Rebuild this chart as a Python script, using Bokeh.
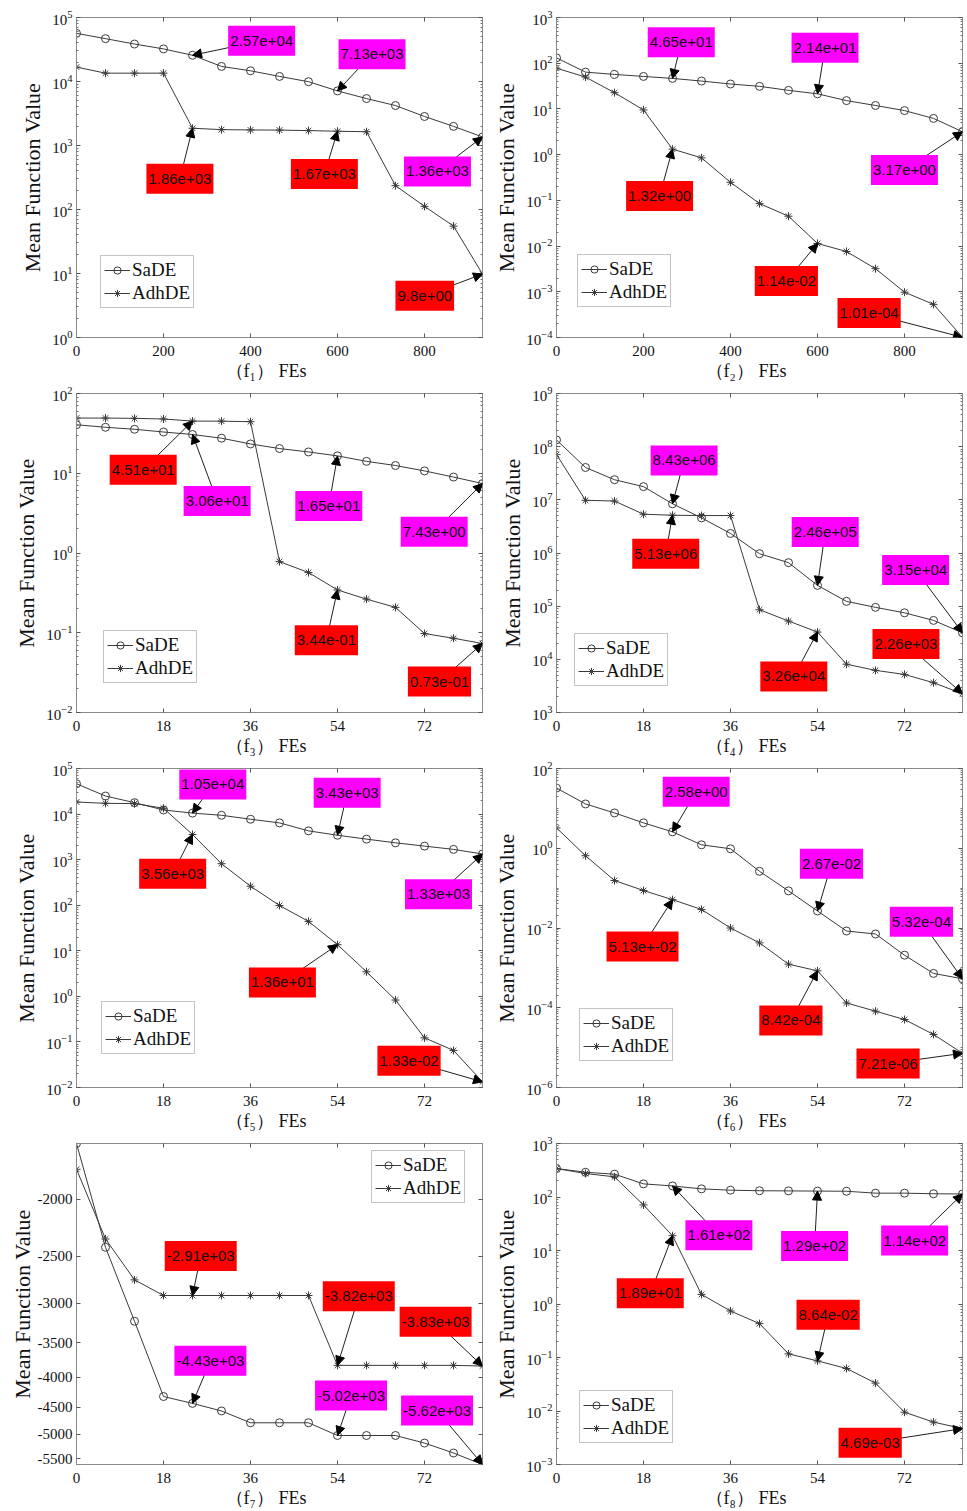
from bokeh.embed import file_html
from bokeh.layouts import column, row
from bokeh.models import (Arrow, CustomJSTickFormatter, FixedTicker, Label, Legend,
                          LegendItem, LinearAxis, LogAxis, NormalHead, Range1d)
from bokeh.plotting import figure
from bokeh.resources import INLINE

# ------------------------------------------------------------------ data
FES_COARSE = [0, 66.7, 133.3, 200, 266.7, 333.3, 400, 466.7, 533.3, 600, 666.7, 733.3, 800, 866.7, 933.3]
FES_FINE = [0, 6, 12, 18, 24, 30, 36, 42, 48, 54, 60, 66, 72, 78, 84]
XTICKS_COARSE = [0, 200, 400, 600, 800]
XTICKS_FINE = [0, 18, 36, 54, 72]
SERIES_NAMES = ["SaDE", "AdhDE"]
Y_LABEL = "Mean Function Value"
X_LABEL = "（f{}） FEs"
SUBSCRIPTS = ["₁", "₂", "₃", "₄", "₅", "₆", "₇", "₈"]

F1_SADE = [56500, 46700, 38500, 32300, 25700, 17200, 14700, 12000, 9930, 7130, 5410, 4210, 2840, 1990, 1360]
F1_ADHDE = [16800, 13500, 13500, 13500, 1860, 1770, 1750, 1740, 1710, 1670, 1640, 236, 112, 55, 9.8]
F1_NOTES_SADE = ["2.57e+04", "7.13e+03", "1.36e+03"]
F1_NOTES_ADHDE = ["1.86e+03", "1.67e+03", "9.8e+00"]

F2_SADE = [131, 63.8, 56.9, 51.4, 46.5, 40.7, 35.1, 31.2, 25.5, 21.4, 15.2, 11.9, 9.2, 6.2, 3.17]
F2_ADHDE = [78, 49.7, 22.7, 9.5, 1.32, 0.85, 0.248, 0.085, 0.045, 0.0114, 0.0076, 0.0032, 0.00098, 0.00053, 0.000101]
F2_NOTES_SADE = ["4.65e+01", "2.14e+01", "3.17e+00"]
F2_NOTES_ADHDE = ["1.32e+00", "1.14e-02", "1.01e-04"]

F3_SADE = [40.6, 37.7, 35.6, 32.9, 30.6, 27.5, 23.3, 20.4, 18.5, 16.5, 14.1, 12.5, 10.7, 8.96, 7.43]
F3_ADHDE = [49.2, 49.2, 48.8, 47.9, 45.1, 45.0, 44.3, 0.78, 0.569, 0.344, 0.264, 0.208, 0.0977, 0.0853, 0.0733]
F3_NOTES_SADE = ["3.06e+01", "1.65e+01", "7.43e+00"]
F3_NOTES_ADHDE = ["4.51e+01", "3.44e-01", "0.73e-01"]

F4_SADE = [1.34e8, 4.06e7, 2.39e7, 1.77e7, 8.43e6, 4.58e6, 2.33e6, 9.7e5, 6.58e5, 2.46e5, 1.23e5, 9.5e4, 7.5e4, 5.4e4, 3.15e4]
F4_ADHDE = [7.1e7, 9.8e6, 9.5e6, 5.36e6, 5.13e6, 5.06e6, 5.06e6, 8.57e4, 5.25e4, 3.26e4, 8.1e3, 6.2e3, 5.2e3, 3.63e3, 2.26e3]
F4_NOTES_SADE = ["8.43e+06", "2.46e+05", "3.15e+04"]
F4_NOTES_ADHDE = ["5.13e+06", "3.26e+04", "2.26e+03"]

F5_SADE = [4.62e4, 2.49e4, 1.78e4, 1.23e4, 1.05e4, 9.4e3, 7.7e3, 6.4e3, 4.28e3, 3.43e3, 2.82e3, 2.34e3, 1.98e3, 1.68e3, 1.33e3]
F5_ADHDE = [1.84e4, 1.72e4, 1.70e4, 1.34e4, 3.56e3, 815, 261, 98.6, 44.1, 13.6, 3.46, 0.83, 0.123, 0.0651, 0.0133]
F5_NOTES_SADE = ["1.05e+04", "3.43e+03", "1.33e+03"]
F5_NOTES_ADHDE = ["3.56e+03", "1.36e+01", "1.33e-02"]

F6_SADE = [32.3, 12.9, 7.69, 4.33, 2.58, 1.22, 0.97, 0.264, 0.0853, 0.0267, 0.0084, 0.00708, 0.00208, 7.26e-4, 5.32e-4]
F6_ADHDE = [3.24, 0.65, 0.155, 0.0871, 0.0513, 0.0292, 0.01, 0.00423, 0.00124, 8.42e-4, 1.32e-4, 8.2e-5, 5.07e-5, 2.14e-5, 7.21e-6]
F6_NOTES_SADE = ["2.58e+00", "2.67e-02", "5.32e-04"]
F6_NOTES_ADHDE = ["5.13e+-02", "8.42e-04", "7.21e-06"]

F7_SADE = [-1610, -2412, -3217, -4313, -4430, -4562, -4777, -4777, -4777, -5020, -5020, -5020, -5170, -5374, -5620]
F7_ADHDE = [-1780, -2335, -2738, -2910, -2910, -2910, -2910, -2910, -2910, -3820, -3820, -3820, -3820, -3820, -3830]
F7_NOTES_SADE = ["-4.43e+03", "-5.02e+03", "-5.62e+03"]
F7_NOTES_ADHDE = ["-2.91e+03", "-3.82e+03", "-3.83e+03"]
F7_YTICKS = [-2000, -2500, -3000, -3500, -4000, -4500, -5000, -5500]

F8_SADE = [340, 290, 267, 176, 161, 142, 134, 131, 130, 129, 128, 118, 118, 115, 114]
F8_ADHDE = [340, 275, 238, 71, 18.9, 1.51, 0.74, 0.43, 0.117, 0.0864, 0.0624, 0.0332, 0.0095, 0.0062, 0.00469]
F8_NOTES_SADE = ["1.61e+02", "1.29e+02", "1.14e+02"]
F8_NOTES_ADHDE = ["1.89e+01", "8.64e-02", "4.69e-03"]

NOTE_INDEX = [4, 9, 14]

# ------------------------------------------------------------------ styles / layout
LINE_C = "#3a3a3a"
AXIS_C = "#8a8a8a"
SADE_BOX = "#ff00ff"
ADHDE_BOX = "#ff0000"
SERIF = "Liberation Serif"
SANS = "Liberation Sans"
LABEL_PAD = "\u00a0" * 6   # nudges the centred x label a little to the left

FRAME_W = 406


def decades(lo, hi, step=1):
    major = [10.0 ** k for k in range(lo, hi + 1, step)]
    minor = [10.0 ** k for k in range(lo, hi + 1) if (k - lo) % step]
    minor += [m * 10.0 ** k for k in range(lo, hi) for m in range(2, 10)]
    return major, minor


def style_axis(ax, labels=True):
    ax.axis_line_color = AXIS_C
    ax.major_tick_line_color = "#555555"
    ax.minor_tick_line_color = "#777777"
    ax.major_tick_in = 4
    ax.major_tick_out = 0
    ax.minor_tick_in = 2
    ax.minor_tick_out = 0
    if labels:
        ax.major_label_text_font = SERIF
        ax.major_label_text_font_size = "15px"
        ax.major_label_text_color = "#111111"
    else:
        ax.major_label_text_font_size = "1px"
        ax.major_label_text_alpha = 0
        ax.major_label_standoff = 0


def panel(spec, width, height, bleft, btop, bbot):
    sign = spec.get("sign", 1)
    x = spec["x"]
    ys = [sign * v for v in spec["sade"]]
    ya = [sign * v for v in spec["adhde"]]
    p = figure(width=width, height=height,
               x_range=Range1d(0, x[-1]),
               y_range=Range1d(spec["ylo"], spec["yhi"]),
               y_axis_type="log", output_backend="svg", toolbar_location=None,
               min_border_left=bleft, min_border_right=width - bleft - FRAME_W,
               min_border_top=btop, min_border_bottom=bbot,
               outline_line_color=AXIS_C, background_fill_color="white",
               border_fill_color="white")
    p.grid.visible = False

    l1 = p.line(x, ys, line_color=LINE_C, line_width=1)
    m1 = p.scatter(x, ys, marker="circle", size=8, fill_color=None, line_color=LINE_C, line_width=1)
    l2 = p.line(x, ya, line_color=LINE_C, line_width=1)
    m2 = p.scatter(x, ya, marker="asterisk", size=8, line_color=LINE_C, line_width=1)

    # axes
    xa = p.xaxis[0]
    xa.ticker = FixedTicker(ticks=spec["xticks"], minor_ticks=[])
    style_axis(xa)
    xa.major_label_standoff = 8
    xa.axis_label = X_LABEL.format(SUBSCRIPTS[spec["n"] - 1]) + LABEL_PAD
    xa.axis_label_text_font = SERIF
    xa.axis_label_text_font_size = "18px"
    xa.axis_label_text_font_style = "normal"
    xa.axis_label_text_color = "#111111"
    xa.axis_label_standoff = 2

    yax = p.yaxis[0]
    if sign < 0:
        ymaj = [-t for t in F7_YTICKS]
        ymin = []
        yax.formatter = CustomJSTickFormatter(code="return '-' + Math.round(tick).toString();")
        yax.axis_label_standoff = 0
    else:
        ymaj, ymin = decades(spec["elo"], spec["ehi"], spec.get("estep", 1))
        yax.axis_label_standoff = 4
    yax.ticker = FixedTicker(ticks=ymaj, minor_ticks=ymin)
    style_axis(yax)
    yax.major_label_standoff = 4
    yax.axis_label = Y_LABEL
    yax.axis_label_text_font = SERIF
    yax.axis_label_text_font_size = "22px"
    yax.axis_label_text_font_style = "normal"
    yax.axis_label_text_color = "#111111"

    top = LinearAxis(ticker=FixedTicker(ticks=spec["xticks"], minor_ticks=[]))
    style_axis(top, labels=False)
    p.add_layout(top, "above")
    right = LogAxis(ticker=FixedTicker(ticks=ymaj, minor_ticks=ymin))
    style_axis(right, labels=False)
    p.add_layout(right, "right")

    # annotations: arrows first, boxes on top
    groups = [(ys, spec["notes_s"], spec["boxes_s"], SADE_BOX),
              (ya, spec["notes_a"], spec["boxes_a"], ADHDE_BOX)]
    for yv, notes, boxes, col in groups:
        for idx, txt, (bx, by) in zip(NOTE_INDEX, notes, boxes):
            p.add_layout(Arrow(end=NormalHead(size=9, fill_color="black", line_color="black", line_width=1),
                               x_start=bx, y_start=by, x_end=x[idx], y_end=yv[idx],
                               line_color="#202020", line_width=1))
    for yv, notes, boxes, col in groups:
        for idx, txt, (bx, by) in zip(NOTE_INDEX, notes, boxes):
            p.add_layout(Label(x=bx, y=by, text=txt, text_align="center", text_baseline="middle",
                               text_font=SANS, text_font_size="15px", text_color="#111111",
                               background_fill_color=col, background_fill_alpha=1.0,
                               padding=(2, 10)))

    # legend
    leg = Legend(items=[LegendItem(label=SERIES_NAMES[0], renderers=[l1, m1]),
                        LegendItem(label=SERIES_NAMES[1], renderers=[l2, m2])],
                 location=spec["legend"], orientation="vertical",
                 label_text_font=SERIF, label_text_font_size="19px", label_text_color="#111111",
                 glyph_width=26, glyph_height=18, label_height=20, label_standoff=2,
                 padding=3, spacing=1, margin=0,
                 border_line_color="#8a8a8a", border_line_width=1,
                 background_fill_color="white", background_fill_alpha=1.0)
    p.add_layout(leg)
    return p


specs = [
    dict(n=1, x=FES_COARSE, xticks=XTICKS_COARSE, sade=F1_SADE, adhde=F1_ADHDE,
         ylo=1, yhi=1e5, elo=0, ehi=5, notes_s=F1_NOTES_SADE, notes_a=F1_NOTES_ADHDE,
         boxes_s=[(425.6, 43450), (679.4, 26670), (829.8, 394)],
         boxes_a=[(237.7, 303), (569.8, 358), (800.6, 4.49)],
         legend=(24, 29)),
    dict(n=2, x=FES_COARSE, xticks=XTICKS_COARSE, sade=F2_SADE, adhde=F2_ADHDE,
         ylo=1e-4, yhi=1e3, elo=-4, ehi=3, notes_s=F2_NOTES_SADE, notes_a=F2_NOTES_ADHDE,
         boxes_s=[(286.8, 286), (617.3, 219), (799.8, 0.459)],
         boxes_a=[(237, 0.125), (528.4, 0.00172), (718.6, 3.42e-4)],
         legend=(21, 30)),
    dict(n=3, x=FES_FINE, xticks=XTICKS_FINE, sade=F3_SADE, adhde=F3_ADHDE,
         ylo=1e-2, yhi=1e2, elo=-2, ehi=2, notes_s=F3_NOTES_SADE, notes_a=F3_NOTES_ADHDE,
         boxes_s=[(29.1, 4.5), (52.2, 3.89), (74.0, 1.85)],
         boxes_a=[(13.8, 11.1), (51.7, 0.0806), (75.1, 0.0244)],
         legend=(27, 29)),
    dict(n=4, x=FES_FINE, xticks=XTICKS_FINE, sade=F4_SADE, adhde=F4_ADHDE,
         ylo=1e3, yhi=1e9, elo=3, ehi=9, notes_s=F4_NOTES_SADE, notes_a=F4_NOTES_ADHDE,
         boxes_s=[(26.4, 5.5e7), (55.6, 2.47e6), (74.3, 4.8e5)],
         boxes_a=[(22.6, 9.7e5), (49.1, 4775), (72.3, 1.95e4)],
         legend=(18, 26)),
    dict(n=5, x=FES_FINE, xticks=XTICKS_FINE, sade=F5_SADE, adhde=F5_ADHDE,
         ylo=1e-2, yhi=1e5, elo=-2, ehi=5, notes_s=F5_NOTES_SADE, notes_a=F5_NOTES_ADHDE,
         boxes_s=[(28.2, 4.48e4), (56.0, 2.94e4), (74.9, 175)],
         boxes_a=[(19.9, 493), (42.6, 2.02), (68.8, 0.0387)],
         legend=(25, 33)),
    dict(n=6, x=FES_FINE, xticks=XTICKS_FINE, sade=F6_SADE, adhde=F6_ADHDE,
         ylo=1e-6, yhi=1e2, elo=-6, ehi=2, estep=2, notes_s=F6_NOTES_SADE, notes_a=F6_NOTES_ADHDE,
         boxes_s=[(28.9, 26.2), (56.9, 0.41), (75.5, 0.0144)],
         boxes_a=[(17.8, 0.00342), (48.5, 4.79e-5), (68.6, 3.97e-6)],
         legend=(23, 26)),
    dict(n=7, x=FES_FINE, xticks=XTICKS_FINE, sade=F7_SADE, adhde=F7_ADHDE, sign=-1,
         ylo=5620, yhi=1610, notes_s=F7_NOTES_SADE, notes_a=F7_NOTES_ADHDE,
         boxes_s=[(27.7, 3752), (56.8, 4297), (74.6, 4555)],
         boxes_a=[(25.7, 2495), (58.4, 2920), (74.3, 3222)],
         legend=(295, 261)),
    dict(n=8, x=FES_FINE, xticks=XTICKS_FINE, sade=F8_SADE, adhde=F8_ADHDE,
         ylo=1e-3, yhi=1e3, elo=-3, ehi=3, notes_s=F8_NOTES_SADE, notes_a=F8_NOTES_ADHDE,
         boxes_s=[(33.6, 19.2), (53.4, 12.2), (74.1, 15.3)],
         boxes_a=[(19.4, 1.58), (56.2, 0.63), (64.9, 0.00254)],
         legend=(23, 21)),
]

# (height, top border, bottom border) per row; page has no margin
row_geom = [(383, 17, 45), (375, 10, 44), (375, 10, 44), (378, 10, 47)]
rows = []
for r in range(4):
    h, bt, bb = row_geom[r]
    left = panel(specs[2 * r], 488, h, 76, bt, bb)
    right = panel(specs[2 * r + 1], 479, h, 68, bt, bb)
    rows.append(row(left, right))

layout = column(*rows)
open("out.html", "w").write(file_html(layout, INLINE))
